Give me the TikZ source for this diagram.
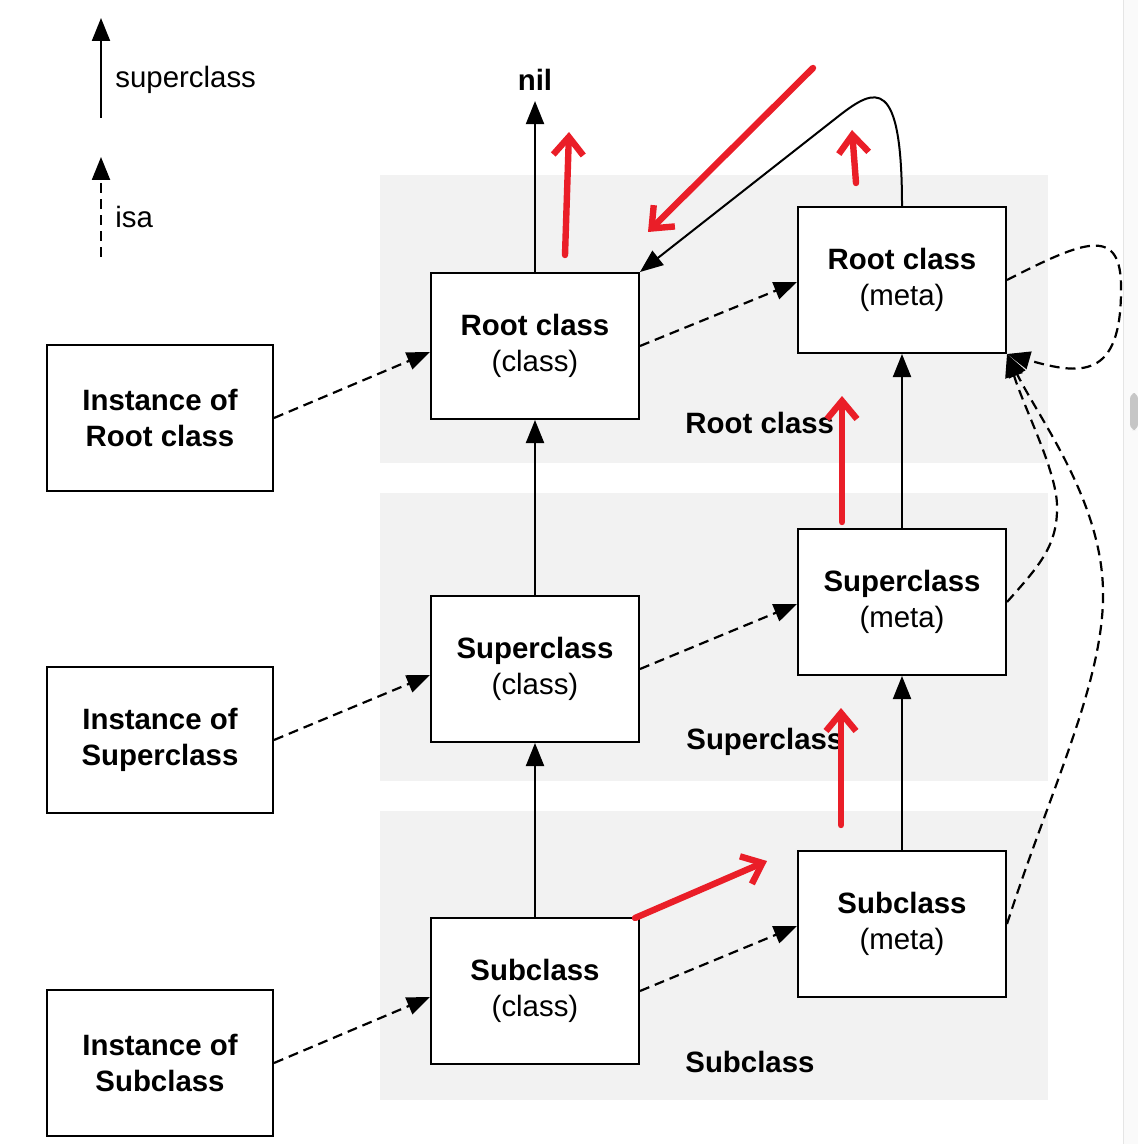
\documentclass[tikz,border=0pt]{standalone}
\usepackage{fontspec}
\setmainfont{Liberation Sans}
\usetikzlibrary{arrows.meta}
\definecolor{bandgray}{RGB}{242,242,242}
\definecolor{markred}{RGB}{234,30,40}
\tikzset{
  classbox/.style={draw, line width=1pt, fill=white, align=center,
    minimum width=104pt, minimum height=73pt, inner sep=0pt},
  instbox/.style={classbox, minimum width=113pt},
  supline/.style={line width=1pt, -{Triangle[length=11.5pt,width=9pt]}},
  isaline/.style={supline, line width=1.1pt, dash pattern=on 5pt off 3pt},
  redmark/.style={draw=markred, line width=3.2pt, line cap=round,
    line join=round, -{Straight Barb[length=9pt,width=15pt]}},
  bandlabel/.style={anchor=west, inner sep=0pt,
    font=\fontsize{14.7}{18}\selectfont\bfseries},
}
\begin{document}
\begin{tikzpicture}[x=0.5pt, y=-0.5pt, font=\fontsize{14.7}{18}\selectfont]
  \useasboundingbox (0,0) rectangle (1138,1144);
  % scroll bar
  \fill[gray!4] (1123,0) rectangle (1138,1144);
  \draw[gray!20, line width=0.5pt] (1123,0) -- (1123,1144);
  \fill[gray!45, rounded corners=3pt] (1130,393) rectangle (1138,430);
  % bands
  \fill[bandgray] (380,175) rectangle (1048,463);
  \fill[bandgray] (380,493) rectangle (1048,781);
  \fill[bandgray] (380,811) rectangle (1048,1100);
  % legend
  \coordinate (supfoot) at (101,118);
  \coordinate (suphead) at (101,18);
  \coordinate (isafoot) at (101,257);
  \coordinate (isahead) at (101,157);
  \node[anchor=west, inner sep=0pt] (suplabel) at (115,80) {superclass};
  \node[anchor=west, inner sep=0pt] (isalabel) at (115,217) {isa};
  \draw[supline] (supfoot) -- (suphead);
  \draw[isaline] (isafoot) -- (isahead);
  % boxes
  \node[instbox] (iroot) at (160,418) {\textbf{Instance of}\\\textbf{Root class}};
  \node[instbox] (isuper) at (160,740) {\textbf{Instance of}\\\textbf{Superclass}};
  \node[instbox] (isub) at (160,1063) {\textbf{Instance of}\\\textbf{Subclass}};
  \node[classbox] (croot) at (535,346) {\textbf{Root class}\\(class)};
  \node[classbox] (csuper) at (535,669) {\textbf{Superclass}\\(class)};
  \node[classbox] (csub) at (535,991) {\textbf{Subclass}\\(class)};
  \node[classbox] (mroot) at (902,280) {\textbf{Root class}\\(meta)};
  \node[classbox] (msuper) at (902,602) {\textbf{Superclass}\\(meta)};
  \node[classbox] (msub) at (902,924) {\textbf{Subclass}\\(meta)};
  % band labels
  \node[bandlabel] (lroot) at (685,423) {Root class};
  \node[bandlabel] (lsuper) at (686,742) {Superclass};
  \node[bandlabel] (lsub) at (685,1062) {Subclass};
  \node[inner sep=5pt, font=\fontsize{14.7}{18}\selectfont\bfseries] (nil) at (535,80) {nil};
  % superclass
  \draw[supline] (croot.north) -- (nil.south);
  \draw[supline] (csuper.north) -- (croot.south);
  \draw[supline] (csub.north) -- (csuper.south);
  \draw[supline] (msuper.north) -- (mroot.south);
  \draw[supline] (msub.north) -- (msuper.south);
  \draw[supline] (mroot.north) .. controls (902,75) and (875,88) .. (840,115) -- (croot.north east);
  % isa
  \draw[isaline] (iroot.east) -- ([yshift=-3pt]croot.west);
  \draw[isaline] (isuper.east) -- ([yshift=-3pt]csuper.west);
  \draw[isaline] (isub.east) -- ([yshift=-3pt]csub.west);
  \draw[isaline] (croot.east) -- ([yshift=-1pt]mroot.west);
  \draw[isaline] (csuper.east) -- ([yshift=-1pt]msuper.west);
  \draw[isaline] (csub.east) -- ([yshift=-1pt]msub.west);
  \draw[isaline] (mroot.east) .. controls (1085,240) and (1122,225) .. (1121,290)
    .. controls (1121,380) and (1080,375) .. (mroot.south east);
  \draw[isaline] (msuper.east) .. controls (1040,565) and (1058,545) .. (1057,505)
    .. controls (1056,470) and (1025,410) .. (mroot.south east);
  \draw[isaline] (msub.east) .. controls (1050,790) and (1105,680) .. (1103,590)
    .. controls (1101,500) and (1040,420) .. (mroot.south east);
  % red marks
  \coordinate (r1a) at (565,255);
  \coordinate (r1b) at (569,132);
  \coordinate (r2a) at (813,68);
  \coordinate (r2b) at (648,232);
  \coordinate (r3a) at (856,183);
  \coordinate (r3b) at (852,130);
  \coordinate (r4a) at (842,522);
  \coordinate (r4b) at (842,396);
  \coordinate (r5a) at (841,825);
  \coordinate (r5b) at (841,708);
  \coordinate (r6a) at (635,918);
  \coordinate (r6b) at (767,861);
  \draw[redmark] (r1a) -- (r1b);
  \draw[redmark] (r2a) -- (r2b);
  \draw[redmark] (r3a) -- (r3b);
  \draw[redmark] (r4a) -- (r4b);
  \draw[redmark] (r5a) -- (r5b);
  \draw[redmark] (r6a) -- (r6b);
\end{tikzpicture}
\end{document}
